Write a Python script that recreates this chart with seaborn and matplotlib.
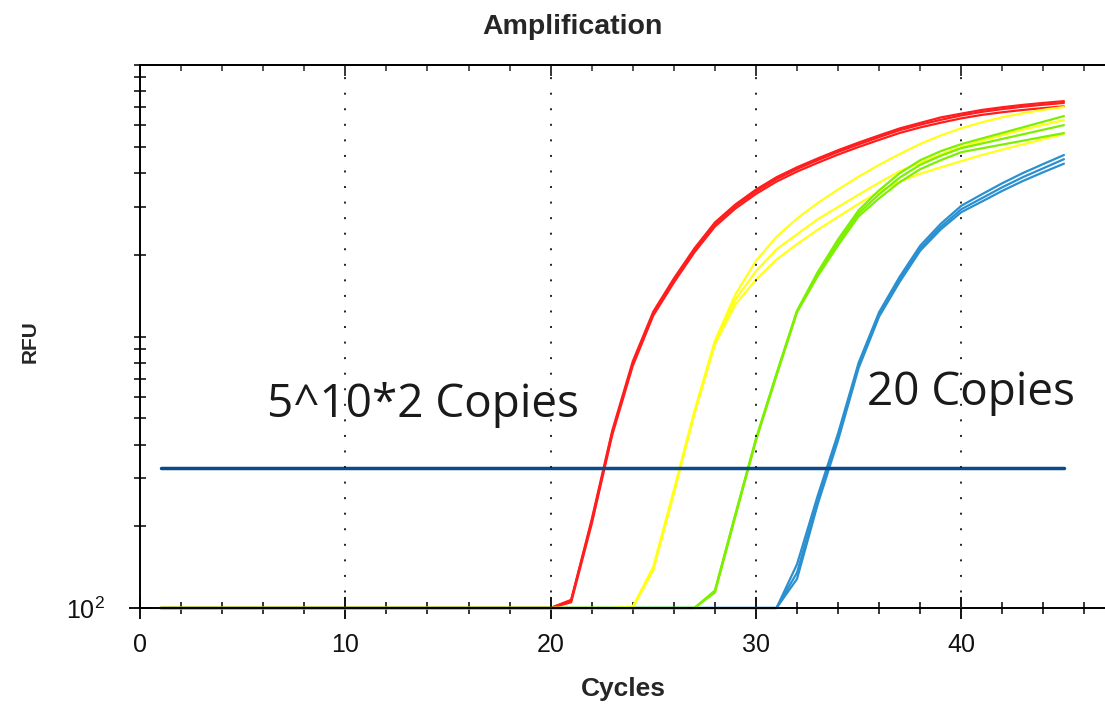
import numpy as np
import pandas as pd
import matplotlib
matplotlib.use("Agg")
import matplotlib.pyplot as plt
import seaborn as sns
from matplotlib.ticker import FixedLocator, NullFormatter, FixedFormatter

# ---------------- data ----------------
cycles = list(range(1, 46))

red_1 = [100] * 20 + [107, 212, 450, 810, 1235, 1635, 2110, 2630, 3065, 3475, 3860, 4200, 4525,
                      4855, 5180, 5505, 5840, 6120, 6410, 6620, 6830, 6990, 7130, 7250, 7360]
red_2 = [100] * 20 + [107, 208, 442, 795, 1216, 1609, 2077, 2590, 3020, 3420, 3800, 4140, 4460,
                      4786, 5102, 5426, 5754, 6030, 6280, 6520, 6720, 6880, 7020, 7140, 7250]
red_3 = [100] * 20 + [105, 204, 434, 780, 1195, 1580, 2040, 2540, 2960, 3350, 3720, 4050, 4360,
                      4680, 4990, 5300, 5620, 5890, 6130, 6360, 6550, 6700, 6830, 6940, 7040]

yellow_1 = [100] * 23 + [101, 142, 272, 530, 965, 1430, 1900, 2330, 2720, 3100, 3480, 3880,
                         4290, 4700, 5120, 5500, 5850, 6150, 6420, 6640, 6840, 7000]
yellow_2 = [100] * 23 + [101, 140, 268, 524, 950, 1370, 1740, 2094, 2380, 2700, 3000, 3330,
                         3688, 4063, 4365, 4681, 4990, 5260, 5520, 5770, 6020, 6266]
yellow_3 = [100] * 23 + [100, 138, 264, 518, 935, 1313, 1620, 1920, 2190, 2470, 2760, 3080,
                         3420, 3720, 3978, 4198, 4425, 4660, 4880, 5100, 5330, 5565]

green_1 = [100] * 27 + [116, 222, 420, 730, 1245, 1723, 2280, 2917, 3457, 3995, 4461, 4816,
                        5112, 5362, 5622, 5895, 6182, 6484]
green_2 = [100] * 27 + [115, 220, 417, 724, 1236, 1694, 2223, 2844, 3342, 3848, 4291, 4631,
                        4940, 5138, 5343, 5555, 5776, 6006]
green_3 = [100] * 27 + [114, 218, 414, 718, 1228, 1665, 2167, 2772, 3230, 3701, 4133, 4461,
                        4775, 4932, 5094, 5261, 5435, 5613]

blue_1 = [100] * 31 + [145, 258, 440, 800, 1230, 1660, 2160, 2600, 3030, 3340, 3670, 4000, 4320, 4660]
blue_2 = [100] * 31 + [135, 248, 427, 782, 1206, 1623, 2112, 2533, 2943, 3230, 3547, 3862, 4168, 4499]
blue_3 = [100] * 31 + [128, 240, 415, 765, 1185, 1590, 2070, 2480, 2870, 3140, 3440, 3740, 4030, 4330]

threshold = 329
threshold_cycles = [1, 45]

x_ticks = [0, 10, 20, 30, 40]
x_tick_labels = ["0", "10", "20", "30", "40"]
grid_cycles = [10, 20, 30, 40]

groups = {
    "20 Copies": [blue_1, blue_2, blue_3],
    "5^10*2 Copies": [red_1, red_2, red_3],
    "Std 2": [yellow_1, yellow_2, yellow_3],
    "Std 3": [green_1, green_2, green_3],
}
colors = {"20 Copies": "#2a90d0", "5^10*2 Copies": "#ff1e1e", "Std 2": "#ffff1a", "Std 3": "#7cf000"}

rows = []
for g, reps in groups.items():
    for r, vals in enumerate(reps):
        for c, v in zip(cycles, vals):
            rows.append((g, f"{g}-{r}", c, v))
df = pd.DataFrame(rows, columns=["group", "rep", "cycle", "rfu"])

# ---------------- figure ----------------
sns.set_style("white")
plt.rcParams["font.family"] = ["Liberation Sans", "DejaVu Sans"]

fig = plt.figure(figsize=(11.05, 7.05), dpi=100)
ax = fig.add_axes([140 / 1105, 1 - 608 / 705, 1 - 140 / 1105, (608 - 65) / 705])

# vertical dotted grid (drawn over text like the reference)
for gx in grid_cycles:
    ax.axvline(gx, color="#222222", lw=1.4, linestyle=(0, (1, 7.0)), zorder=3)

sns.lineplot(data=df, x="cycle", y="rfu", hue="group", units="rep", estimator=None,
             hue_order=list(groups.keys()), palette=colors, lw=1.6, legend=False, ax=ax,
             zorder=2)
for ln in ax.lines:
    ln.set_clip_on(False)

ax.plot(threshold_cycles, [threshold, threshold], color="#0b4a8a", lw=2.5, zorder=2.2)

ax.set_yscale("log")
ax.set_ylim(100, 10000)
ax.set_xlim(0, 47)

ax.yaxis.set_major_locator(FixedLocator([100]))
ax.yaxis.set_major_formatter(FixedFormatter([r"$\mathregular{10^2}$"]))
ax.yaxis.set_minor_locator(FixedLocator([k * 10 ** e for e in (2, 3) for k in range(2, 11)]))
ax.yaxis.set_minor_formatter(NullFormatter())

ax.xaxis.set_major_locator(FixedLocator(x_ticks))
ax.xaxis.set_major_formatter(FixedFormatter(x_tick_labels))
ax.xaxis.set_minor_locator(FixedLocator(list(range(0, 48, 2))))

ax.tick_params(axis="x", which="both", bottom=True, top=False)
ax.tick_params(axis="y", which="both", left=True, right=False)
ax.tick_params(axis="both", which="major", direction="inout", length=16, width=1.3,
               color="black", labelcolor="#111111")
ax.tick_params(axis="x", which="major", labelsize=18, pad=10)
ax.tick_params(axis="y", which="major", labelsize=18, pad=17)
ax.tick_params(axis="both", which="minor", direction="inout", length=8, width=1.1, color="black")

# top ticks pointing inward only
top = ax.secondary_xaxis("top")
top.xaxis.set_major_locator(FixedLocator(x_ticks))
top.xaxis.set_minor_locator(FixedLocator(list(range(0, 48, 2))))
top.tick_params(which="both", top=True)
top.tick_params(which="major", direction="in", length=8, width=1.3, labeltop=False)
top.tick_params(which="minor", direction="in", length=4, width=1.1)
top.spines["top"].set_linewidth(1.4)

for s in ["left", "bottom", "top"]:
    ax.spines[s].set_color("black")
    ax.spines[s].set_linewidth(1.4)
ax.spines["right"].set_visible(False)

ax.set_xlabel("")
ax.set_ylabel("")

# annotations
ax.text(6.2, 507, "5^10*2 Copies", fontsize=33, family=["Open Sans", "DejaVu Sans"],
        color="#1a1a1a", va="baseline", ha="left", zorder=1)
ax.text(35.4, 561, "20 Copies", fontsize=33, family=["Open Sans", "DejaVu Sans"],
        color="#1a1a1a", va="baseline", ha="left", zorder=1)

fig.text(572 / 1105, 1 - 27 / 705, "Amplification", fontsize=20.5, fontweight="bold",
         ha="center", va="center")
fig.text(623 / 1105, 1 - 689 / 705, "Cycles", fontsize=19, fontweight="bold",
         ha="center", va="center")
fig.text(30 / 1105, 1 - 342 / 705, "RFU", fontsize=15, fontweight="bold",
         ha="center", va="center", rotation=90)

fig.savefig("out.png", dpi=100)
